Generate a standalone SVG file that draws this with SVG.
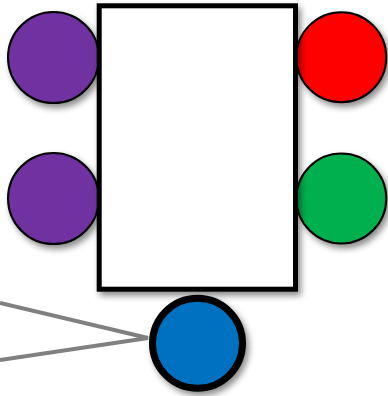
<svg xmlns="http://www.w3.org/2000/svg" width="388" height="396" viewBox="0 0 388 396">
<defs>
<filter id="sh" x="-20%" y="-20%" width="150%" height="150%">
<feDropShadow dx="3" dy="4" stdDeviation="3" flood-color="#000" flood-opacity="0.45"/>
</filter>
</defs>
<style>
.port{stroke:#000;stroke-width:2;filter:url(#sh)}
.conn{stroke:#808080;stroke-width:4;fill:none}
</style>
<rect width="388" height="396" fill="#fff"/>
<g id="connectors">
<polyline class="conn" points="0,303 148,338 0,360"/>
</g>
<g id="port-left-top"><circle class="port" cx="53.5" cy="57.5" r="45.5" fill="#7030A0"/></g>
<g id="port-left-bottom"><circle class="port" cx="53.5" cy="198.5" r="45.5" fill="#7030A0"/></g>
<g id="port-right-top"><circle class="port" cx="341.3" cy="57.2" r="45" fill="#FF0000"/></g>
<g id="port-right-bottom"><circle class="port" cx="341.3" cy="198.5" r="45" fill="#00B050"/></g>
<g id="box"><rect x="99.2" y="5.8" width="196.3" height="283.4" fill="#fff" stroke="#000" stroke-width="5" filter="url(#sh)"/></g>
<g id="port-bottom"><circle cx="197.5" cy="343.3" r="45" fill="#0070C0" stroke="#000" stroke-width="7" filter="url(#sh)"/></g>
</svg>
